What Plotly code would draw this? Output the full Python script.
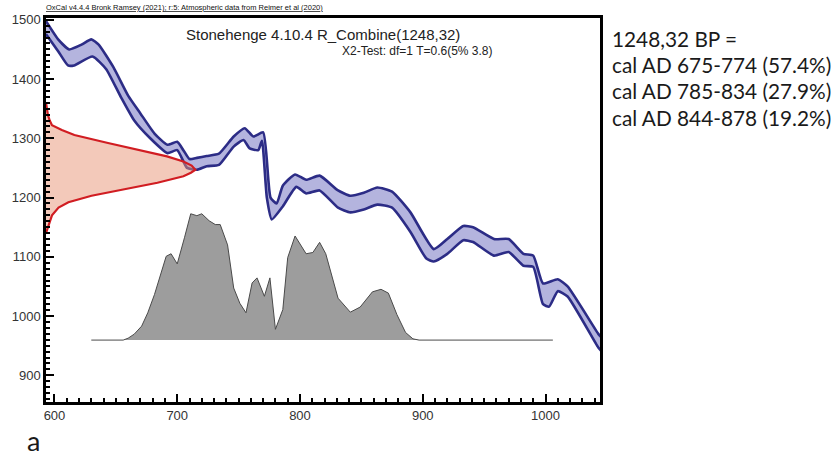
import plotly.graph_objects as go

# ---- Calibration curve envelope (IntCal20, 1-sigma band): cal AD vs BP ----
upper_years = [593, 603, 612, 622, 630, 636, 648, 660, 670, 681.5, 692, 700, 705, 710, 716, 724, 734,
               746, 755, 762, 770, 776, 781, 786, 796, 805, 816, 831, 841, 852, 863, 875, 890,
               909, 920, 933, 941, 958, 970, 982, 990, 998, 1010, 1018, 1043, 1046]
upper_bp = [1498, 1467, 1450, 1458, 1467, 1458, 1420, 1372, 1342, 1308, 1289, 1294, 1280, 1265, 1267, 1270, 1274,
            1303, 1317, 1303, 1310, 1200, 1190, 1220, 1239, 1230, 1237, 1212, 1203, 1208, 1217, 1210, 1175,
            1113, 1130, 1152, 1150, 1130, 1130, 1105, 1102, 1055, 1062, 1050, 970, 963]

lower_years = [593, 603, 611, 616, 631, 642, 654, 665, 678, 692, 700, 708, 716, 724, 734, 746, 754,
               759, 766, 769, 773, 777, 786, 797, 805, 816, 831, 841, 852, 863, 875, 890, 903,
               909, 920, 933, 941, 958, 970, 982, 990, 998, 1003, 1010, 1018, 1043, 1046]
lower_bp = [1476, 1447, 1423, 1423, 1438, 1417, 1370, 1330, 1300, 1275, 1280, 1250, 1247, 1253, 1255, 1286, 1297,
            1283, 1280, 1296, 1200, 1163, 1185, 1218, 1207, 1212, 1183, 1175, 1180, 1188, 1183, 1142, 1097,
            1092, 1105, 1128, 1125, 1102, 1108, 1085, 1083, 1020, 1016, 1042, 1033, 947, 940]

# ---- Radiocarbon measurement 1248 +/- 32 BP (relative probability) ----
date_bp = [1360, 1347, 1339, 1330, 1322, 1314, 1305.5, 1292, 1279.5, 1269.5, 1261, 1254, 1247,
           1242, 1236, 1225, 1214, 1203, 1192, 1183, 1170, 1155, 1148, 1140]
date_density = [0.0, 0.005, 0.013, 0.025, 0.04, 0.106, 0.19, 0.415, 0.636, 0.81, 0.92, 0.975, 1.0,
                0.97, 0.92, 0.746, 0.525, 0.305, 0.15, 0.084, 0.04, 0.018, 0.008, 0.0]

# ---- Calibrated date (relative probability) ----
cal_years = [630, 656, 660, 665, 671, 676, 681.5, 685.5, 691, 695, 700, 706, 711, 716, 720, 726, 731, 735,
             741, 746, 751, 756, 761, 765, 771, 775.5, 780, 786, 790, 796, 802, 805, 810.5, 816, 821,
             831, 841, 849, 859, 866, 872, 879, 886, 892, 897, 1006]
cal_density = [0, 0, 0.015, 0.047, 0.11, 0.215, 0.36, 0.49, 0.66, 0.68, 0.60, 0.81, 0.995, 0.98, 0.995, 0.94, 0.91, 0.91,
               0.75, 0.41, 0.29, 0.215, 0.45, 0.49, 0.345, 0.49, 0.085, 0.24, 0.65, 0.82, 0.72, 0.68, 0.69, 0.77, 0.68,
               0.33, 0.22, 0.26, 0.38, 0.40, 0.37, 0.20, 0.06, 0.01, 0, 0]

title_text = "Stonehenge 4.10.4 R_Combine(1248,32)"
test_text = "X2-Test: df=1 T=0.6(5% 3.8)"
header_text = "OxCal v4.4.4 Bronk Ramsey (2021); r:5: Atmospheric data from Reimer et al (2020)"
result_lines = ["1248,32 BP =", "cal AD 675-774 (57.4%)", "cal AD 785-834 (27.9%)", "cal AD 844-878 (19.2%)"]
panel_label = "a"

x_ticks = [600, 700, 800, 900, 1000]
y_ticks = [900, 1000, 1100, 1200, 1300, 1400, 1500]

NAVY = "#2c2c86"
LAV = "#b4b4de"

fig = go.Figure()

# calibrated distribution (grey) on secondary y axis
fig.add_trace(go.Scatter(x=cal_years, y=cal_density, mode="lines", xaxis="x", yaxis="y2",
                         fill="tozeroy", fillcolor="#9d9d9d",
                         line=dict(color="#4a4a4a", width=1), hoverinfo="skip"))

# calibration band
band_x = upper_years + lower_years[::-1]
band_y = upper_bp + lower_bp[::-1]
fig.add_trace(go.Scatter(x=band_x, y=band_y, mode="lines", fill="toself", fillcolor=LAV,
                         line=dict(width=0, shape="spline", smoothing=0.5), hoverinfo="skip"))
fig.add_trace(go.Scatter(x=upper_years, y=upper_bp, mode="lines",
                         line=dict(color=NAVY, width=2.6, shape="spline", smoothing=0.5), hoverinfo="skip"))
fig.add_trace(go.Scatter(x=lower_years, y=lower_bp, mode="lines",
                         line=dict(color=NAVY, width=2.6, shape="spline", smoothing=0.5), hoverinfo="skip"))

# radiocarbon date distribution on secondary x axis
fig.add_trace(go.Scatter(x=date_density, y=date_bp, mode="lines", xaxis="x2", yaxis="y",
                         fill="tozerox", fillcolor="rgba(231,148,118,0.5)",
                         line=dict(color="#d11d22", width=2.2), hoverinfo="skip"))

axis_font = dict(family="Liberation Sans, Arial, sans-serif", size=13, color="#333")

fig.update_layout(
    width=838, height=456,
    margin=dict(l=40, r=238, t=13, b=54),
    paper_bgcolor="white", plot_bgcolor="white",
    showlegend=False,
    xaxis=dict(range=[593.1, 1044.4], tickvals=x_ticks, ticks="inside", ticklen=8, tickwidth=2,
               tickcolor="black", showline=True, linecolor="black", linewidth=2.5, mirror=True,
               showgrid=False, zeroline=False, tickfont=axis_font,
               minor=dict(dtick=10, tick0=0, ticks="inside", ticklen=4, tickwidth=1.5, tickcolor="black",
                          showgrid=False)),
    yaxis=dict(range=[855, 1503], tickvals=y_ticks, ticks="inside", ticklen=8, tickwidth=2,
               tickcolor="black", showline=True, linecolor="black", linewidth=2.5, mirror=True,
               showgrid=False, zeroline=False, tickfont=axis_font,
               minor=dict(dtick=10, tick0=0, ticks="inside", ticklen=4, tickwidth=1.5, tickcolor="black",
                          showgrid=False)),
    xaxis2=dict(overlaying="x", range=[0, 3.709], visible=False),
    yaxis2=dict(overlaying="y", range=[-0.4876, 2.537], visible=False),
)

fig.add_annotation(text=title_text, xref="paper", yref="paper", x=0.5, y=(402 - 29.5) / 389,
                   xanchor="center", yanchor="middle", showarrow=False,
                   font=dict(family="Liberation Sans, Arial, sans-serif", size=15, color="#222"))
fig.add_annotation(text=test_text, xref="paper", yref="paper", x=0.671, y=(402 - 46.5) / 389,
                   xanchor="center", yanchor="middle", showarrow=False,
                   font=dict(family="Liberation Sans, Arial, sans-serif", size=12, color="#222"))
fig.add_annotation(text="<u>" + header_text + "</u>", xref="paper", yref="paper", x=-0.004, y=(402 - 2) / 389,
                   xanchor="left", yanchor="middle", showarrow=False,
                   font=dict(family="Liberation Sans, Arial, sans-serif", size=7.5, color="#111"))

line_centers_px = [33.5, 60.2, 86.9, 113.6]
for txt, py in zip(result_lines, line_centers_px):
    fig.add_annotation(text=txt, xref="paper", yref="paper", x=(610 - 40) / 560, y=(402 - py) / 389,
                       xanchor="left", yanchor="middle", showarrow=False,
                       font=dict(family="Lato, sans-serif", size=20.8, color="#1a1a1a"))

fig.add_annotation(text=panel_label, xref="paper", yref="paper", x=(27 - 40) / 560, y=(402 - 441) / 389,
                   xanchor="center", yanchor="middle", showarrow=False,
                   font=dict(family="Lato, sans-serif", size=27, color="#1a1a1a"))

fig.write_html("out.html", post_script="document.body.style.margin='0px';",
               config={"displayModeBar": False})
